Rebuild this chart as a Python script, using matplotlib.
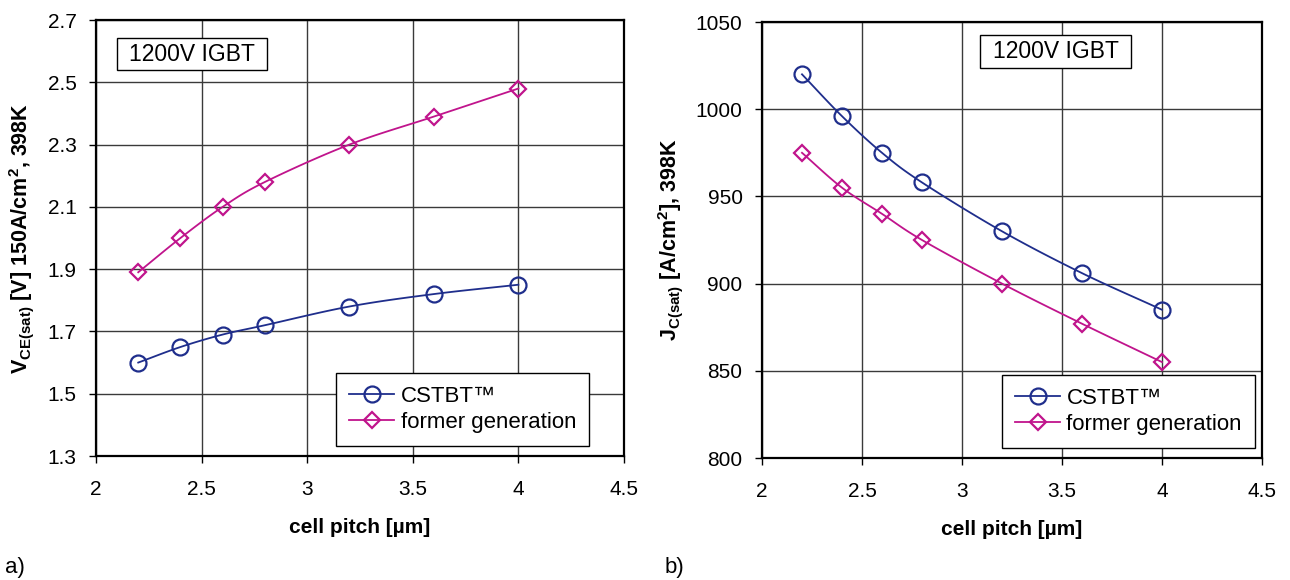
import numpy as np
import matplotlib
matplotlib.use("Agg")
import matplotlib.pyplot as plt
from matplotlib.patches import Rectangle

plt.rcParams['font.family'] = ['Liberation Sans', 'DejaVu Sans']
plt.rcParams['mathtext.fontset'] = 'custom'
plt.rcParams['mathtext.bf'] = 'Liberation Sans:bold'
plt.rcParams['mathtext.rm'] = 'Liberation Sans:bold'
plt.rcParams['mathtext.default'] = 'bf'

# data
pitch = [2.2, 2.4, 2.6, 2.8, 3.2, 3.6, 4.0]
vce_cstbt = [1.60, 1.65, 1.69, 1.72, 1.78, 1.82, 1.85]
vce_former = [1.89, 2.00, 2.10, 2.18, 2.30, 2.39, 2.48]
jc_cstbt = [1020, 996, 975, 958, 930, 906, 885]
jc_former = [975, 955, 940, 925, 900, 877, 855]
series_names = ['CSTBT™', 'former generation']
xticks = [2, 2.5, 3, 3.5, 4, 4.5]
yticks_a = [1.3, 1.5, 1.7, 1.9, 2.1, 2.3, 2.5, 2.7]
yticks_b = [800, 850, 900, 950, 1000, 1050]

C_BLUE = '#1f2e8c'
C_MAG = '#c0148c'


def smooth(x, y, n=20):
    """Catmull-Rom curve through the given points (line drawing only)."""
    x = np.asarray(x, float)
    y = np.asarray(y, float)
    P = np.column_stack([x, y])
    P = np.vstack([2 * P[0] - P[1], P, 2 * P[-1] - P[-2]])
    out = []
    t = np.linspace(0, 1, n)
    for i in range(1, len(P) - 2):
        p0, p1, p2, p3 = P[i - 1], P[i], P[i + 1], P[i + 2]
        tt = t[:, None]
        seg = 0.5 * ((2 * p1) + (-p0 + p2) * tt + (2 * p0 - 5 * p1 + 4 * p2 - p3) * tt ** 2
                     + (-p0 + 3 * p1 - 3 * p2 + p3) * tt ** 3)
        out.append(seg if i == 1 else seg[1:])
    s = np.vstack(out)
    return s[:, 0], s[:, 1]


fig = plt.figure(figsize=(12.9, 5.8), dpi=100)
ax1 = fig.add_axes([96 / 1290, 1 - 456 / 580, 528 / 1290, 436 / 580])
ax2 = fig.add_axes([762 / 1290, 1 - 458 / 580, 500 / 1290, 436 / 580])


def draw(ax, yc, yf, yticks, ylabel, fmt, box, leg_anchor):
    for yv, col, mk, name in [(yc, C_BLUE, 'o', series_names[0]), (yf, C_MAG, 'D', series_names[1])]:
        ms = 11.5 if mk == 'o' else 8.5
        sx, sy = smooth(pitch, yv)
        ax.plot(sx, sy, color=col, lw=1.3, zorder=3)
        ax.plot(pitch, yv, ls='none', marker=mk, ms=ms,
                mfc='none', mec=col, mew=1.6, zorder=4)
        ax.plot([], [], color=col, lw=1.3, marker=mk, ms=ms,
                mfc='none', mec=col, mew=1.6, label=name)
    ax.set_xlim(2, 4.5)
    ax.set_ylim(yticks[0], yticks[-1])
    ax.set_xticks(xticks)
    ax.set_xticklabels(['2', '2.5', '3', '3.5', '4', '4.5'])
    ax.set_yticks(yticks)
    ax.set_yticklabels([fmt(v) for v in yticks])
    ax.grid(True, color='#3a3a3a', lw=1.0)
    ax.set_axisbelow(True)
    for s in ax.spines.values():
        s.set_linewidth(1.6)
        s.set_color('black')
    ax.tick_params(direction='out', length=5, width=1.0, labelsize=15)
    ax.tick_params(axis='x', pad=12)
    ax.tick_params(axis='y', pad=9)
    ax.set_xlabel('cell pitch [µm]', fontsize=15, fontweight='bold', labelpad=14)
    ax.set_ylabel(ylabel, fontsize=15.5, fontweight='bold', labelpad=8)
    x0, y0, x1, y1 = box
    ax.add_patch(Rectangle((x0, y0), x1 - x0, y1 - y0, transform=ax.transAxes,
                           fc='white', ec='black', lw=1.0, zorder=5))
    ax.text((x0 + x1) / 2, (y0 + y1) / 2, '1200V IGBT', transform=ax.transAxes,
            fontsize=16.5, va='center', ha='center', zorder=6)
    leg = ax.legend(loc='lower right', bbox_to_anchor=leg_anchor, fontsize=16,
                    frameon=True, fancybox=False, edgecolor='black', framealpha=1,
                    handlelength=2.0, handletextpad=0.3, borderpad=0.6,
                    labelspacing=0.2, borderaxespad=0.3)
    leg.get_frame().set_linewidth(1.0)


draw(ax1, vce_cstbt, vce_former, yticks_a,
     r'$\mathbf{V_{CE(sat)}}$ [V] 150A/cm$\mathbf{^2}$, 398K', lambda v: f'{v:.1f}',
     (0.040, 0.885, 0.324, 0.959), (0.947, 0.008))
draw(ax2, jc_cstbt, jc_former, yticks_b,
     r'$\mathbf{J_{C(sat)}}$ [A/cm$\mathbf{^2}$], 398K', lambda v: f'{v:.0f}',
     (0.436, 0.894, 0.738, 0.970), (1.0, 0.008))

fig.text(5 / 1290, 1 - 568 / 580, 'a)', fontsize=16, va='center')
fig.text(665 / 1290, 1 - 568 / 580, 'b)', fontsize=16, va='center')

fig.savefig('out.png', dpi=100)
